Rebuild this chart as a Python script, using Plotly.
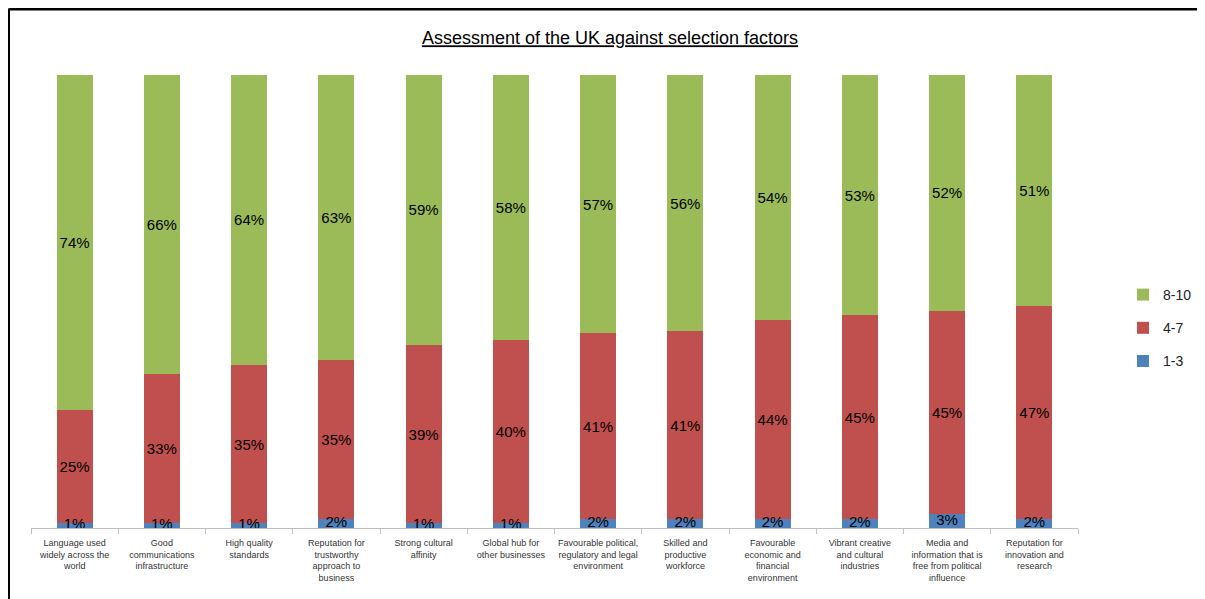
import plotly.graph_objects as go

categories = [
    "Language used<br>widely across the<br>world",
    "Good<br>communications<br>infrastructure",
    "High quality<br>standards",
    "Reputation for<br>trustworthy<br>approach to<br>business",
    "Strong cultural<br>affinity",
    "Global hub for<br>other businesses",
    "Favourable political,<br>regulatory and legal<br>environment",
    "Skilled and<br>productive<br>workforce",
    "Favourable<br>economic and<br>financial<br>environment",
    "Vibrant creative<br>and cultural<br>industries",
    "Media and<br>information that is<br>free from political<br>influence",
    "Reputation for<br>innovation and<br>research",
]
low_1_3 = [1, 1, 1, 2, 1, 1, 2, 2, 2, 2, 3, 2]
mid_4_7 = [25, 33, 35, 35, 39, 40, 41, 41, 44, 45, 45, 47]
high_8_10 = [74, 66, 64, 63, 59, 58, 57, 56, 54, 53, 52, 51]

series = [
    ("1-3", low_1_3, "#4F81BD", 3),
    ("4-7", mid_4_7, "#C0504D", 2),
    ("8-10", high_8_10, "#9BBB59", 1),
]

FONT = "Liberation Sans, Arial, sans-serif"
LABEL_FONT = dict(family=FONT, size=15, color="#000000")

fig = go.Figure()
for name, vals, color, rank in series:
    small = name == "1-3"
    fig.add_trace(go.Bar(
        x=categories, y=vals, name=name,
        marker=dict(color=color, line=dict(width=0)),
        text=None if small else [f"{v}%" for v in vals],
        textposition="none" if small else "inside", insidetextanchor="middle",
        textangle=0, cliponaxis=False,
        textfont=LABEL_FONT,
        legendgroup=name, legendrank=rank,
    ))

# labels of the thin bottom segment drawn on top of everything
totals = [a + b + c for a, b, c in zip(low_1_3, mid_4_7, high_8_10)]
fig.add_trace(go.Scatter(
    x=categories, y=[v / t * 100 / 2 for v, t in zip(low_1_3, totals)],
    mode="text", text=[f"{v}%" for v in low_1_3],
    textposition="middle center", textfont=LABEL_FONT,
    showlegend=False, hoverinfo="skip", cliponaxis=False,
))

# page body has an 8px margin; figure coords = screen coords - 8
OFF = 8
W, H = 1205 - OFF, 599 - OFF
L, R, T, B = 31 - OFF, 1205 - 1078, 75 - OFF, 599 - 528
pw, ph = W - L - R, H - T - B

def px(x):
    return (x - L) / pw

def py(y):
    return (H - B - y) / ph

fig.update_layout(
    width=W, height=H,
    barmode="stack", barnorm="percent", bargap=0.59,
    plot_bgcolor="white", paper_bgcolor="white",
    margin=dict(l=L, r=R, t=T, b=B, autoexpand=False),
    uniformtext=dict(minsize=15, mode="show"),
    title=dict(
        text="<u>Assessment of the UK against selection factors</u>",
        x=(610 - OFF) / W, xanchor="center", y=1 - (38 - OFF) / H, yanchor="middle",
        font=dict(family=FONT, size=18, color="#000000"),
    ),
    legend=dict(
        x=px(1115), xanchor="left", y=py(271), yanchor="top",
        traceorder="grouped", tracegroupgap=12,
        font=dict(family=FONT, size=14, color="#222222"),
        itemwidth=30,
    ),
    xaxis=dict(
        type="category", range=[-0.5, len(categories) - 0.5],
        showgrid=False, showline=True, linecolor="#BFBFBF", linewidth=1,
        ticks="outside", ticklen=5, tickcolor="#BFBFBF", tickson="boundaries",
        tickangle=0, ticklabelstandoff=6,
        tickfont=dict(family=FONT, size=9, color="#333333"),
    ),
    yaxis=dict(visible=False, range=[0, 100], showgrid=False),
    showlegend=True,
)

fig.add_shape(type="line", xref="paper", yref="paper",
              x0=px(0.5), y0=py(1), x1=px(W + 5), y1=py(1),
              line=dict(color="black", width=3))
fig.add_shape(type="line", xref="paper", yref="paper",
              x0=px(0.5), y0=py(1), x1=px(0.5), y1=py(H + 5),
              line=dict(color="black", width=3))

fig.write_html("out.html")
